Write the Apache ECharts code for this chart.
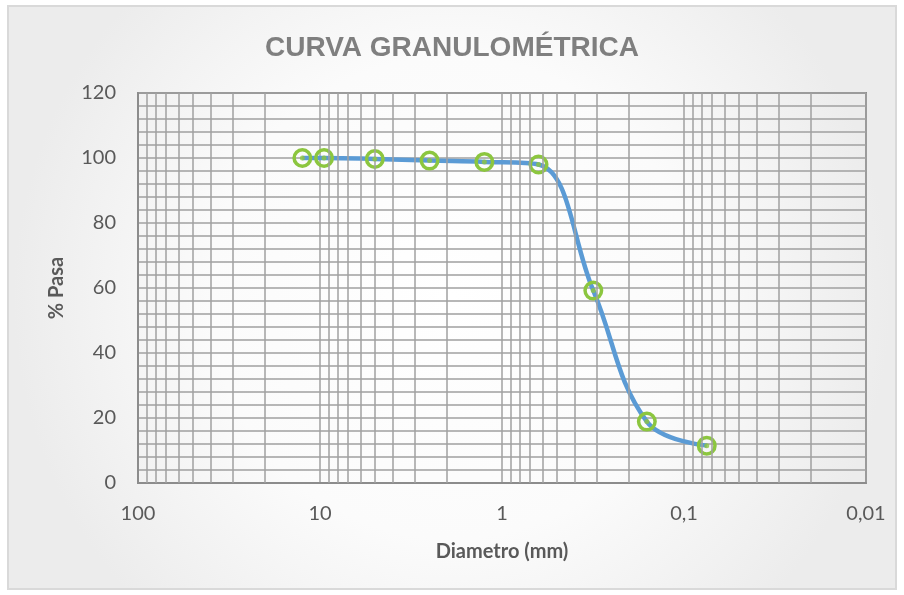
<!DOCTYPE html>
<html>
<head>
<meta charset="utf-8">
<title>Curva granulométrica</title>
<script src="https://cdn.jsdelivr.net/npm/echarts@6/dist/echarts.min.js"></script>
<style>
  html, body { margin: 0; padding: 0; background: #ffffff; }
  #chart { width: 904px; height: 595px; }
</style>
</head>
<body>
<div id="chart"></div>
<script>
// Sieve openings (mm) and cumulative percent passing
var sieveSizes = [12.5, 9.5, 5, 2.5, 1.25, 0.63, 0.315, 0.16, 0.075];
var percentPassing = [100, 100, 99.7, 99.2, 98.8, 98, 59.2, 18.9, 11.5];

// Log grid: decade starts and the intermediate multipliers 2..9
var gridDecades = [0.01, 0.1, 1, 10];
var gridMultipliers = [2, 3, 4, 5, 6, 7, 8, 9];

var points = sieveSizes.map(function (d, i) { return [d, percentPassing[i]]; });

var minorLines = [];
gridDecades.forEach(function (dec) {
  gridMultipliers.forEach(function (m) {
    minorLines.push({ xAxis: Number((dec * m).toPrecision(6)) });
  });
});

var textGray = '#595959';
var gridGray = '#a0a0a0';
var green = '#8cc63f';
var blue = '#5b9bd5';

function commaNumber(v) {
  return String(Number(Number(v).toPrecision(6))).replace('.', ',');
}

var chart = echarts.init(document.getElementById('chart'), null, { renderer: 'canvas' });

chart.setOption({
  backgroundColor: '#ffffff',
  animation: false,
  graphic: [{
    type: 'rect',
    z: -10,
    silent: true,
    shape: { x: 8, y: 6, width: 888, height: 583 },
    style: {
      fill: new echarts.graphic.RadialGradient(0.5, 0.5, 0.75, [
        { offset: 0, color: '#ffffff' },
        { offset: 0.55, color: '#fbfbfb' },
        { offset: 1, color: '#ececec' }
      ]),
      stroke: '#d9d9d9',
      lineWidth: 2
    }
  }],
  title: {
    text: 'CURVA GRANULOMÉTRICA',
    left: 'center',
    top: 29,
    textStyle: {
      fontFamily: 'Liberation Sans',
      fontWeight: 'bold',
      fontSize: 28,
      color: '#7f7f7f'
    }
  },
  grid: {
    left: 138,
    top: 93,
    right: 38,
    bottom: 112,
    show: true,
    borderColor: '#8c8c8c',
    borderWidth: 2,
    backgroundColor: 'transparent'
  },
  xAxis: {
    type: 'log',
    logBase: 10,
    inverse: true,
    min: 0.01,
    max: 100,
    interval: 1,
    name: 'Diametro (mm)',
    nameLocation: 'middle',
    nameGap: 59,
    nameTextStyle: {
      fontFamily: 'Lato',
      fontWeight: 'bold',
      fontSize: 20,
      color: textGray
    },
    axisLine: { show: true, lineStyle: { color: '#8c8c8c', width: 2 } },
    axisTick: { show: false },
    axisLabel: {
      margin: 21,
      fontFamily: 'Lato',
      fontSize: 20,
      color: textGray,
      formatter: commaNumber
    },
    splitLine: { show: true, lineStyle: { color: gridGray, width: 1.5 } }
  },
  yAxis: {
    type: 'value',
    min: 0,
    max: 120,
    interval: 20,
    name: '% Pasa',
    nameLocation: 'middle',
    nameRotate: 90,
    nameGap: 71,
    nameTextStyle: {
      fontFamily: 'Lato',
      fontWeight: 'bold',
      fontSize: 20,
      color: textGray
    },
    axisLine: { show: true, lineStyle: { color: '#8c8c8c', width: 2 } },
    axisTick: { show: false },
    axisLabel: {
      margin: 22,
      fontFamily: 'Lato',
      fontSize: 20,
      color: textGray
    },
    splitLine: { show: true, lineStyle: { color: gridGray, width: 1.5 } },
    minorTick: { show: false, splitNumber: 5 },
    minorSplitLine: { show: true, lineStyle: { color: gridGray, width: 1.5 } }
  },
  series: [
    {
      // vertical log-grid lines between the decades
      type: 'line',
      data: [],
      silent: true,
      markLine: {
        silent: true,
        symbol: ['none', 'none'],
        label: { show: false },
        lineStyle: { color: gridGray, width: 1.5, type: 'solid' },
        data: minorLines
      }
    },
    {
      name: '% Pasa',
      type: 'line',
      data: points,
      smooth: 0.4,
      z: 3,
      lineStyle: { color: blue, width: 4.5 },
      symbol: 'circle',
      symbolSize: 16.5,
      itemStyle: {
        color: 'rgba(0,0,0,0)',
        borderColor: green,
        borderWidth: 3.5
      }
    },
    {
      // marker centre dots
      type: 'scatter',
      data: points,
      z: 5,
      symbol: 'circle',
      symbolSize: 5,
      itemStyle: { color: green }
    }
  ]
});
</script>
</body>
</html>
